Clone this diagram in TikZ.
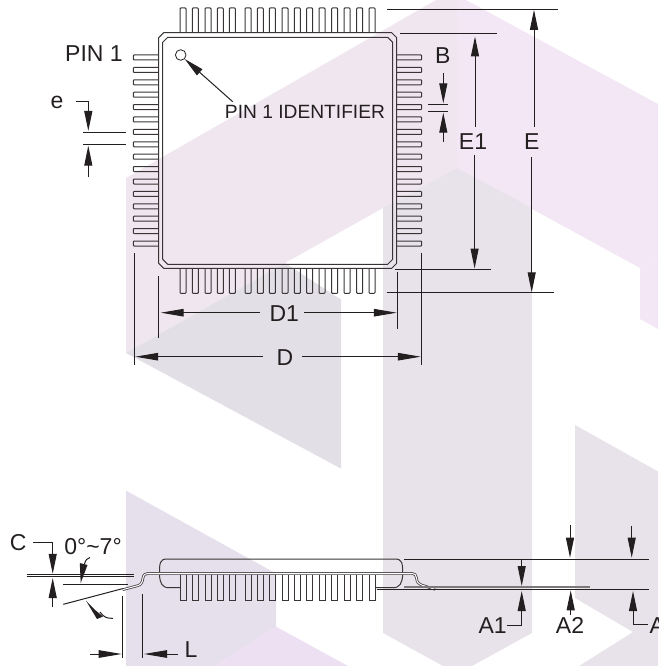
\documentclass[tikz,border=0pt]{standalone}
\usepackage{fontspec}
\setmainfont{Liberation Sans}
\usetikzlibrary{arrows.meta}
\definecolor{ink}{HTML}{231F20}
\definecolor{mauve}{HTML}{E8E3EA}
\definecolor{mauvedark}{HTML}{E3DFE6}
\definecolor{lilac}{HTML}{E6DFEC}
\definecolor{lilacpink}{HTML}{EEE0F3}
\definecolor{pinkl}{HTML}{EFE6EF}
\definecolor{pinkr}{HTML}{F3E6F5}
\tikzset{
  ln/.style={draw=ink,line width=1pt},
  pinline/.style={draw=ink!90,line width=1pt},
  arr/.style={ln,-{Stealth[length=20pt,width=8pt,inset=0pt]}},
  arrlong/.style={ln,-{Stealth[length=23pt,width=7.5pt,inset=0pt]}},
  lab/.style={text=ink,font=\fontsize{23}{24}\selectfont,inner sep=0pt},
  labsmall/.style={text=ink,font=\fontsize{19.2}{20}\selectfont,inner sep=0pt},
}
\begin{document}
\begin{tikzpicture}[x=1pt,y=-1pt]
\useasboundingbox (0,0) rectangle (658,666);
% ---- background
\fill[pinkl] (126,178) -- (436,0) -- (457,0) -- (457,168) -- (383,208) -- (285,263) -- (126,353) -- cycle;
\fill[pinkr] (457,0) -- (466,0) -- (658,104) -- (658,257) -- (640,268) -- (457,168) -- cycle;
\fill[pinkr] (640,268) -- (658,257) -- (658,329) -- (640,319) -- cycle;
\fill[mauvedark] (126,353) -- (285,263) -- (341,299.5) -- (341,468.6) -- cycle;
\fill[mauve] (383,208) -- (457,168) -- (532,208) -- (532,633) -- (472,666) -- (443,666) -- (383,633) -- cycle;
\fill[mauve] (575,425) -- (658,471.5) -- (658,666) -- (579,666) -- (633,632) -- (575,598) -- cycle;
\fill[lilac] (126,490.6) -- (276,573.5) -- (276,626.6) -- (214,666) -- (126,666) -- cycle;
\fill[lilacpink] (276,626.6) -- (348,666) -- (214,666) -- cycle;
% ---- top view package
\draw[pinline,line join=round] (163.7,32.7) -- (391.7,32.7) -- (396.7,37.7) -- (396.7,263.3) -- (391.7,268.3) -- (163.7,268.3) -- (158.7,263.3) -- (158.7,37.7) -- cycle;
\draw[pinline,line join=round] (167.7,37.3) -- (387.7,37.3) -- (392.7,42.3) -- (392.7,259.3) -- (387.7,264.3) -- (167.7,264.3) -- (162.7,259.3) -- (162.7,42.3) -- cycle;
\foreach \p in {180,192.3,205,217.3,229.3,245,257.3,269.3,282,294.3,306.7,319,331.7,344,356.7,369}{
  \draw[pinline,rounded corners=0.8pt] (\p,32.7) -- (\p,8) -- (\p+6,8) -- (\p+6,32.7);
  \draw[pinline,rounded corners=0.8pt] (\p,268.3) -- (\p,293.3) -- (\p+6,293.3) -- (\p+6,268.3);
}
\foreach \k in {0,...,15}{
  \pgfmathsetmacro{\q}{55+12.4*\k}
  \draw[pinline,rounded corners=0.8pt] (158.7,\q) -- (133.3,\q) -- (133.3,\q+5) -- (158.7,\q+5);
  \draw[pinline,rounded corners=0.8pt] (396.7,\q) -- (421.7,\q) -- (421.7,\q+5) -- (396.7,\q+5);
}
% ---- pin 1
\node[draw=ink,line width=0.8pt,circle,minimum size=10.6pt,inner sep=0pt] (pinone) at (180.7,55) {};
\node[labsmall] (ident) at (305,112) {PIN 1 IDENTIFIER};
\coordinate (identtail) at (232.7,101.7);
\draw[arr] (identtail) -- (pinone.south east);
\node[lab] (pinlabel) at (94,53.3) {PIN 1};
% ---- e
\node[lab] (elabel) at (57,102.7) {e};
\coordinate (ebr) at (76,101.3); \coordinate (eknee) at (88.3,101.3); \coordinate (etip) at (88.3,131);
\coordinate (etip2) at (88.3,145.7); \coordinate (etail) at (88.3,176.7);
\draw[arr] (ebr) -- (eknee) -- (etip);
\draw[arr] (etail) -- (etip2);
\draw[ln] (83.3,132.3) -- (126,132.3);
\draw[ln] (83.3,144.3) -- (126,144.3);
% ---- B
\node[lab] (blabel) at (442.7,55.6) {B};
\coordinate (bt) at (443.3,73); \coordinate (bb) at (443.3,141.7);
\draw[arr] (bt) -- (443.3,103.3);
\draw[arr] (bb) -- (443.3,112.7);
\draw[ln] (428.3,104.3) -- (448.3,104.3);
\draw[ln] (428.3,111.7) -- (448.3,111.7);
% ---- E1, E
\node[lab] (e1label) at (473,142) {E1};
\node[lab] (ebig) at (531.7,142) {E};
\draw[ln] (387.3,9.3) -- (558,9.3);
\draw[ln] (400,34) -- (496.7,34);
\draw[ln] (395,269) -- (491,269);
\draw[ln] (386.7,292.8) -- (554,292.8);
\coordinate (e1up) at (475,126.7); \coordinate (e1dn) at (474.6,155);
\draw[arr] (e1up) -- (475,36.5);
\draw[arr] (e1dn) -- (474.6,268.5);
\coordinate (eup) at (534,126.7); \coordinate (edn) at (531.7,157);
\draw[arr] (eup) -- (534,9.8);
\draw[arr] (edn) -- (531.7,292.3);
% ---- D1, D
\node[lab] (d1label) at (284.3,314) {D1};
\node[lab] (dlabel) at (285,358) {D};
\draw[ln] (158.3,276) -- (158.3,337.7);
\draw[ln] (397.3,271.7) -- (397.3,329.3);
\draw[ln] (134.7,253.3) -- (134.7,365);
\draw[ln] (421.3,253.3) -- (421.3,365);
\draw[arrlong] (260,312.7) -- (160.7,312.7);
\draw[arrlong] (304,312.7) -- (396.8,312.7);
\draw[arrlong] (263.3,356.7) -- (135.2,356.7);
\draw[arrlong] (302.3,356.7) -- (420.8,356.7);
% ---- side view body
\draw[pinline] (159.5,573) .. controls (159.5,563) and (160,559) .. (167,559) -- (395,559) .. controls (402,559) and (402.7,563) .. (402.7,573);
\draw[pinline] (159.5,575) .. controls (160,583) and (162,587.7) .. (169,587.7) -- (180,587.7);
\draw[pinline] (402.7,575) .. controls (402,583) and (400,587.7) .. (393,587.7) -- (375,587.7);
\foreach \p in {180,192.3,205,217.3,229.3,245,257.3,269.3,282,294.3,306.7,319,331.7,344,356.7,369}{
  \draw[pinline] (\p,574.5) -- (\p,600) -- (\p+6,600) -- (\p+6,574.5);
}
\draw[ink!85,line width=0.8pt,double=white,double distance=1pt,line join=round]
  (122.7,589.7) -- (138,585.6) .. controls (141.5,584.6) and (142.3,582) .. (143,578) .. controls (143.5,574.8) and (145,573.4) .. (148,573.4) -- (412,573.4) .. controls (415,573.4) and (416,575) .. (416.5,578) .. controls (417,582) and (418,583.7) .. (421,584.8) -- (435,589.3);
% ---- left dimensions
\draw[ln] (26.7,574.3) -- (134.3,574.3);
\draw[ln] (26.7,576.9) -- (134.3,576.9);
\draw[ln] (63.3,584) -- (128.3,584);
\draw[ln] (63.3,604.3) -- (122.7,588.6);
\node[lab] (clabel) at (18.3,542.3) {C};
\coordinate (cbr) at (33.3,542.7); \coordinate (cknee) at (52.7,542.7); \coordinate (ctail) at (52.7,607.3);
\draw[arr] (cbr) -- (cknee) -- (52.7,573.8);
\draw[arr] (ctail) -- (52.7,578);
\node[lab] (anglelabel) at (93,546.7) {0°{\char"7E}7°};
\coordinate (angtail) at (90,557.5);
\draw[ln] (angtail) .. controls (87.5,558.5) and (85.5,559.5) .. (84.5,564);
\fill[ink] (80.7,583) -- (79.8,563) -- (87.5,565) -- cycle;
\coordinate (lowtail) at (113,618.3);
\draw[ln] (lowtail) .. controls (107,618.5) and (104,617.5) .. (100,612);
\fill[ink] (86,600.7) -- (94.5,609.5) -- (103,616.5) -- (97,619) -- cycle;
% ---- L
\draw[ln] (122.7,596) -- (122.7,658.3);
\draw[ln] (142.7,594) -- (142.7,658.3);
\coordinate (ll) at (90,654); \coordinate (lr) at (177.7,654);
\draw[arrlong] (ll) -- (121.7,654);
\draw[arrlong] (lr) -- (144,654);
\node[lab] (llabel) at (191,650) {L};
% ---- right dimensions
\draw[ln] (404,559) -- (649.3,559);
\draw[ln] (376.7,589.7) -- (649.3,589.7);
\draw[draw=ink!60,line width=1.6pt] (404,586.7) -- (590,586.7);
\coordinate (rta) at (570,525); \coordinate (rtb) at (631.7,526);
\draw[arr] (rta) -- (570,557.7);
\draw[arr] (rtb) -- (631.7,557.7);
\coordinate (aonetop) at (521.7,560); \coordinate (aoneknee) at (521.7,625); \coordinate (aoneend) at (506.7,625);
\draw[arr] (aonetop) -- (521.7,586);
\draw[arr] (aoneend) -- (aoneknee) -- (521.7,591);
\node[lab] (aonelabel) at (492.7,626) {A1};
\node[lab] (atwolabel) at (570,625.5) {A2};
\coordinate (atwotail) at (570.7,615);
\draw[arr] (atwotail) -- (570.7,590.3);
\node[lab,anchor=west] (alabel) at (649.3,626) {A};
\coordinate (aknee) at (633,624); \coordinate (aend) at (647.7,624);
\draw[arr] (aend) -- (aknee) -- (633,591);
\end{tikzpicture}
\end{document}
